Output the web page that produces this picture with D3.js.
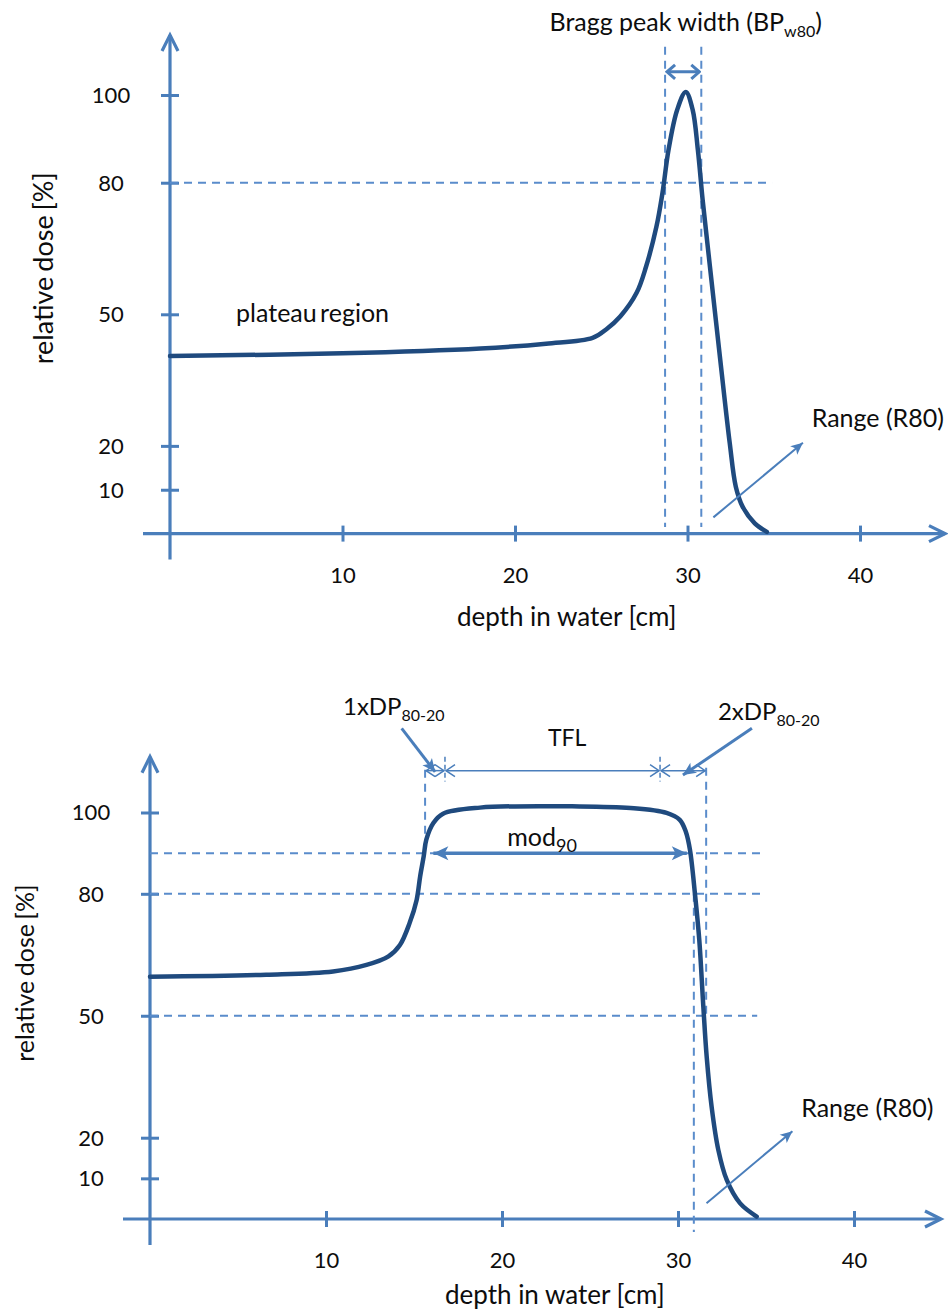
<!DOCTYPE html>
<html>
<head>
<meta charset="utf-8">
<script src="https://cdn.jsdelivr.net/npm/d3@7"></script>
<style>
  body { margin: 0; background: #fff; }
  svg text { font-family: Lato, "Open Sans", sans-serif; fill: #0d0d0d; }
</style>
</head>
<body>
<svg id="chart" width="948" height="1313"></svg>
<script>
// tick labels (both panels)
var xTicks = [10, 20, 30, 40];
var yTicks = [10, 20, 50, 80, 100];

// single Bragg peak: depth [cm] / relative dose [%]
var braggDepth = [0, 10, 18, 21.8, 24.5, 25.3, 26.1, 27.05, 27.6, 28.2, 28.55, 28.9, 29.4, 29.9, 30.3, 30.6, 30.88, 31.3, 31.9, 32.45, 32.8, 33.2, 33.9, 34.6];
var braggDose  = [40.5, 41.1, 42.2, 43.3, 44.6, 46.6, 49.5, 54.9, 60.9, 70, 77.7, 87.5, 96.6, 100.7, 96.6, 87.5, 76, 60.9, 39.6, 20.6, 10.7, 6.1, 2.35, 0.4];

// spread-out Bragg peak: depth [cm] / relative dose [%]
var sobpDepth = [0, 6.6, 10.4, 12.3, 13.55, 14.2, 14.75, 15.15, 15.35, 15.55, 15.7, 16.1, 16.65, 18.75, 24.4, 27.3, 29.35, 30.1, 30.45, 30.68, 30.97, 31.21, 31.44, 31.63, 31.91, 32.29, 32.77, 33.52, 34.47];
var sobpDose  = [59.6, 60.1, 60.9, 62.5, 64.6, 67.4, 72.8, 78.5, 84.3, 89.2, 93.3, 97.4, 99.7, 101.2, 101.5, 101.1, 99.9, 98.2, 95.2, 90.8, 79.7, 68.6, 52.2, 39.9, 27.6, 17.0, 9.6, 3.9, 0.6];

// annotation values
var braggW80 = [28.7, 30.8];          // depths of the 80 % crossings
var sobpLevels = [90, 80, 50];        // dashed dose levels, lower panel
var sobpEdges = [15.63, 16.76, 28.98, 31.6]; // 1xDP start, TFL start, TFL end, 2xDP end
var sobpR80 = 30.9;
var sobpMod90 = [16.1, 30.5];

var svg = d3.select("#chart");
var axisColor = "#4a7ebb", dashColor = "#5a8ccb", curveColor = "#1f4a7e";

var defs = svg.append("defs");
function marker(id, filled, len, half, sw) {
  var m = defs.append("marker").attr("id", id)
    .attr("markerUnits", "userSpaceOnUse")
    .attr("viewBox", [-len - 2, -half - 2, len + 4, 2 * half + 4].join(" "))
    .attr("refX", 0).attr("refY", 0)
    .attr("markerWidth", len + 4).attr("markerHeight", 2 * half + 4)
    .attr("orient", "auto-start-reverse");
  if (filled) {
    m.append("path").attr("d", "M0,0L" + (-len) + "," + (-half) + "L" + (-len * 0.75) + ",0L" + (-len) + "," + half + "Z")
      .attr("fill", axisColor);
  } else {
    m.append("path").attr("d", "M" + (-len) + "," + (-half) + "L0,0L" + (-len) + "," + half)
      .attr("fill", "none").attr("stroke", axisColor).attr("stroke-width", sw);
  }
}
marker("triBig", true, 15, 7, 0);
marker("triMid", true, 13, 6, 0);
marker("triSmall", true, 12, 5.5, 0);
marker("chevMid", false, 8, 7, 3);
marker("chevThin", false, 9, 6, 1.5);

function chevron(g, x, y, dir) {
  // axis arrow heads
  var p = dir === "up" ? [[x - 8, y + 16], [x, y], [x + 8, y + 16]] : [[x - 16, y - 8], [x, y], [x - 16, y + 8]];
  g.append("path").attr("d", d3.line()(p)).attr("fill", "none")
    .attr("stroke", axisColor).attr("stroke-width", 3.2).attr("stroke-linejoin", "miter");
}

function panel(cfg, depth, dose) {
  var x = cfg.x, y = cfg.y;
  var g = svg.append("g");

  // axes
  g.append("line").attr("x1", x(0)).attr("x2", x(0)).attr("y1", y(0) + 26).attr("y2", cfg.yTip)
    .attr("stroke", axisColor).attr("stroke-width", 3.2);
  chevron(g, x(0), cfg.yTip, "up");
  g.append("line").attr("x1", x(0) - 27).attr("x2", cfg.xTip).attr("y1", y(0)).attr("y2", y(0))
    .attr("stroke", axisColor).attr("stroke-width", 3.2);
  chevron(g, cfg.xTip, y(0), "right");

  var ya = g.append("g").attr("transform", "translate(" + (x(0) + 9) + ",0)")
    .call(d3.axisLeft(y).tickValues(yTicks).tickSize(18).tickSizeOuter(0));
  var xa = g.append("g").attr("transform", "translate(0," + (y(0) - 8) + ")")
    .call(d3.axisBottom(x).tickValues(xTicks).tickSize(16).tickSizeOuter(0));
  [ya, xa].forEach(function (a) {
    a.select(".domain").remove();
    a.selectAll(".tick line").attr("stroke", axisColor).attr("stroke-width", 3);
    a.selectAll(".tick text").attr("fill", "#0d0d0d").style("font-size", "22px")
      .style("font-family", "Lato, sans-serif");
  });
  ya.selectAll(".tick text").attr("text-anchor", "middle").attr("x", -68).attr("dy", "0.34em");
  xa.selectAll(".tick text").attr("y", 57).attr("dy", 0);

  // titles
  g.append("text").attr("text-anchor", "middle")
    .attr("x", x(23)).attr("y", y(0) + cfg.xTitleDy)
    .style("font-size", cfg.titleSize + "px").text("depth in water [cm]");
  g.append("text").attr("text-anchor", "middle")
    .attr("transform", "translate(" + cfg.yTitleX + "," + y(60.5) + ") rotate(-90)")
    .style("font-size", cfg.yTitleSize + "px").style("word-spacing", "-2px").text("relative dose [%]");

  g.append("g").attr("class", "ann");
  // curve
  var pts = d3.zip(depth, dose);
  g.append("path").datum(pts)
    .attr("d", d3.line().x(function (d) { return x(d[0]); }).y(function (d) { return y(d[1]); })
      .curve(d3.curveCatmullRom.alpha(0.5)))
    .attr("fill", "none").attr("stroke", curveColor).attr("stroke-width", 4.5)
    .attr("stroke-linecap", "round");
  return g;
}

function dashed(g, x1, y1, x2, y2) {
  g.insert("line", ".ann").attr("x1", x1).attr("y1", y1).attr("x2", x2).attr("y2", y2)
    .attr("stroke", dashColor).attr("stroke-width", 2).attr("stroke-dasharray", "8,6");
}
function arrow(g, x1, y1, x2, y2, sw, start, end) {
  var l = g.append("line").attr("x1", x1).attr("y1", y1).attr("x2", x2).attr("y2", y2)
    .attr("stroke", axisColor).attr("stroke-width", sw);
  if (start) l.attr("marker-start", "url(#" + start + ")");
  if (end) l.attr("marker-end", "url(#" + end + ")");
}
function label(g, px, py, main, sub, size, subSize, anchor) {
  var t = g.append("text").attr("x", px).attr("y", py).style("font-size", size + "px")
    .attr("text-anchor", anchor || "start");
  t.append("tspan").text(main);
  if (sub) {
    t.append("tspan").attr("dy", 6).style("font-size", subSize + "px").text(sub);
    if (sub === "w80") t.append("tspan").attr("dy", -6).text(")");
  }
  return t;
}

// ---------- top panel: single Bragg peak ----------
var topCfg = {
  x: d3.scaleLinear().domain([0, 40]).range([170, 860]),
  y: d3.scaleLinear().domain([0, 100]).range([533.6, 95]),
  yTip: 35, xTip: 945, xTitleDy: 92, yTitleX: 53, titleSize: 26, yTitleSize: 27
};
var g1 = panel(topCfg, braggDepth, braggDose);
var tx = topCfg.x, ty = topCfg.y;
dashed(g1, tx(0), ty(80), tx(34.9), ty(80));
braggW80.forEach(function (d) { dashed(g1, tx(d), ty(111), tx(d), ty(1.5)); });
arrow(g1, tx(braggW80[0]) + 2, ty(105.3), tx(braggW80[1]) - 2, ty(105.3), 3, "chevMid", "chevMid");
label(g1, tx(22), ty(114.6), "Bragg peak width (BP", "w80", 25, 16);
label(g1, tx(3.83), ty(48.3), "plateau region", null, 25).style("word-spacing", "-3px");
arrow(g1, tx(31.5), ty(3.7), tx(36.69), ty(20.7), 2, null, "triSmall");
label(g1, tx(37.2), ty(24.3), "Range (R80)", null, 25);

// ---------- bottom panel: spread-out Bragg peak ----------
var botCfg = {
  x: d3.scaleLinear().domain([0, 40]).range([150, 854]),
  y: d3.scaleLinear().domain([0, 100]).range([1219, 812.5]),
  yTip: 756.7, xTip: 941, xTitleDy: 85, yTitleX: 34, titleSize: 26, yTitleSize: 25
};
var g2 = panel(botCfg, sobpDepth, sobpDose);
var bx = botCfg.x, by = botCfg.y;
var levelEnds = [34.8, 34.9, 34.5];
sobpLevels.forEach(function (v, i) { dashed(g2, bx(0), by(v), bx(levelEnds[i]), by(v)); });
dashed(g2, bx(sobpEdges[0]), by(110.5), bx(sobpEdges[0]), by(90));
dashed(g2, bx(sobpEdges[3]), by(111), bx(sobpEdges[3]), by(50));
dashed(g2, bx(sobpR80), by(80), bx(sobpR80), by(-3.2));
// TFL and distal/proximal widths
[sobpEdges[1], sobpEdges[2]].forEach(function (d) {
  g2.append("line").attr("x1", bx(d)).attr("x2", bx(d)).attr("y1", by(113.7)).attr("y2", by(107.6))
    .attr("stroke", axisColor).attr("stroke-width", 1.5).attr("stroke-dasharray", "5,3");
});
arrow(g2, bx(sobpEdges[1]) + 1, by(110.3), bx(sobpEdges[2]) - 1, by(110.3), 1.5, "chevThin", "chevThin");
arrow(g2, bx(sobpEdges[2]) + 1, by(110.3), bx(sobpEdges[3]) - 1, by(110.3), 1.5, "chevThin", "chevThin");
arrow(g2, bx(sobpEdges[0]) + 1, by(110.3), bx(sobpEdges[1]) - 1, by(110.3), 1.5, "chevThin", "chevThin");
arrow(g2, bx(sobpMod90[0]), by(90), bx(sobpMod90[1]), by(90), 3.5, "triBig", "triBig");
arrow(g2, bx(14.3), by(120.7), bx(16.2), by(110), 3, null, "triMid");
arrow(g2, bx(34.2), by(120.7), bx(30.28), by(109.2), 3, null, "triMid");
label(g2, bx(10.97), by(124), "1xDP", "80-20", 24, 16);
label(g2, bx(23.7), by(116.4), "TFL", null, 23, null, "middle");
label(g2, bx(32.27), by(122.8), "2xDP", "80-20", 24, 16);
label(g2, bx(20.3), by(91.8), "mod", "90", 25, 18);
arrow(g2, bx(31.62), by(3.9), bx(36.5), by(21.6), 2, null, "triSmall");
label(g2, bx(37.0), by(25.1), "Range (R80)", null, 25);
</script>
</body>
</html>
